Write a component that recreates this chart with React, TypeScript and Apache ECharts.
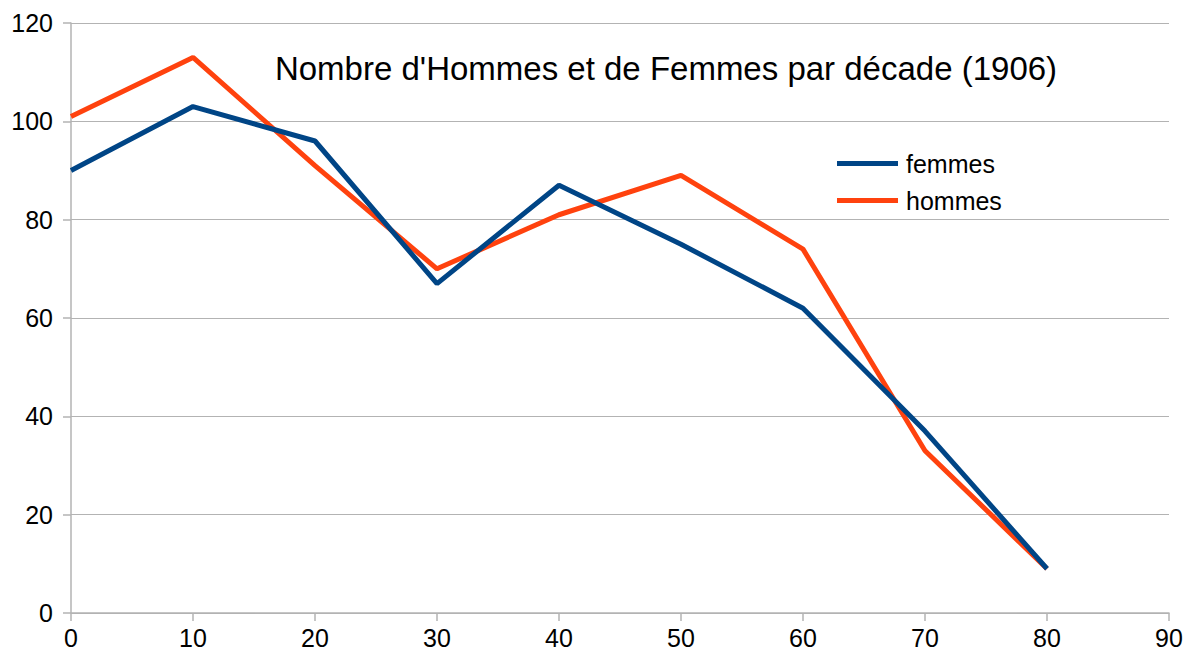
import React, { useEffect, useRef } from "react";
import * as echarts from "echarts";

const decades = [0, 10, 20, 30, 40, 50, 60, 70, 80];
const femmes = [90, 103, 96, 67, 87, 75, 62, 37, 9];
const hommes = [101, 113, 91, 70, 81, 89, 74, 33, 9];
const titleText = "Nombre d'Hommes et de Femmes par décade (1906)";

export default function App() {
  const ref = useRef<HTMLDivElement>(null);
  useEffect(() => {
    const chart = echarts.init(ref.current!, null, { renderer: "svg" });
    const font = "Liberation Sans";
    chart.setOption({
      animation: false,
      backgroundColor: "#ffffff",
      title: {
        text: titleText,
        left: 661,
        top: 47,
        textAlign: "center",
        textStyle: { fontFamily: font, fontSize: 33, fontWeight: "normal", color: "#000" },
      },
      legend: {
        orient: "vertical",
        left: 832,
        top: 146,
        itemWidth: 61,
        itemHeight: 5,
        itemGap: 12,
        icon: "rect",
        textStyle: { fontFamily: font, fontSize: 25, color: "#000", padding: [0, 0, 0, 3] },
        data: ["femmes", "hommes"],
      },
      grid: { left: 71, right: 20, top: 23, bottom: 46 },
      xAxis: {
        type: "value",
        min: 0,
        max: 90,
        interval: 10,
        axisLine: { show: true, lineStyle: { color: "#b3b3b3", width: 1.5 } },
        axisTick: { show: true, length: 8, lineStyle: { color: "#b3b3b3", width: 1.5 } },
        splitLine: { show: false },
        axisLabel: { fontFamily: font, fontSize: 25, color: "#000", margin: 12 },
      },
      yAxis: {
        type: "value",
        min: 0,
        max: 120,
        interval: 20,
        axisLine: { show: true, lineStyle: { color: "#b3b3b3", width: 1.5 } },
        axisTick: { show: true, length: 8, lineStyle: { color: "#b3b3b3", width: 1.5 } },
        splitLine: { show: true, lineStyle: { color: "#b3b3b3", width: 1.2 } },
        axisLabel: { fontFamily: font, fontSize: 25, color: "#000", margin: 18 },
      },
      series: [
        {
          name: "femmes",
          type: "line",
          data: decades.map((d, i) => [d, femmes[i]]),
          showSymbol: false,
          symbol: "none",
          itemStyle: { color: "#004586" },
          lineStyle: { color: "#004586", width: 5 },
          z: 3,
        },
        {
          name: "hommes",
          type: "line",
          data: decades.map((d, i) => [d, hommes[i]]),
          showSymbol: false,
          symbol: "none",
          itemStyle: { color: "#ff420e" },
          lineStyle: { color: "#ff420e", width: 5 },
          z: 2,
        },
      ],
    });
    return () => chart.dispose();
  }, []);
  return (
    <div
      ref={ref}
      style={{ position: "fixed", left: 0, top: 0, width: 1189, height: 659 }}
    />
  );
}
